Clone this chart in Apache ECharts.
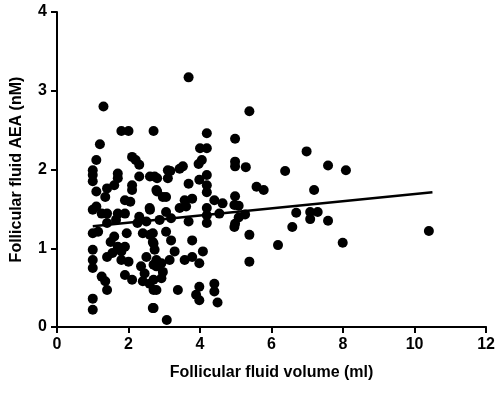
<!DOCTYPE html>
<html><head><meta charset="utf-8">
<script src="https://cdn.jsdelivr.net/npm/echarts@6/dist/echarts.min.js"></script>
<style>html,body{margin:0;padding:0;background:#fff}#c{width:498px;height:400px}</style>
</head><body><div id="c"></div>
<script>
const volume = [5.38,4.98,4.98,4.98,5.28,6.98,6.38,7.58,8.08,5.58,5.78,7.19,4.98,5.08,5.26,5.08,4.98,5.38,6.18,6.58,6.69,7.08,7.08,7.29,7.58,7.99,5.38,10.4,
1.3,1.8,2.0,2.7,1.2,1.1,2.1,2.2,2.3,1.0,1.0,1.0,1.7,1.7,1.6,2.3,2.6,2.8,2.1,2.1,1.4,1.1,1.35,2.8,1.9,2.05,1.0,1.1,1.25,1.4,1.7,1.9,2.3,2.6,1.4,1.65,2.25,2.5,1.0,1.15,1.6,1.95,2.4,2.6,1.5,1.7,1.9,1.8,2.7,1.0,1.0,1.0,1.4,1.55,1.8,2.5,2.7,2.0,2.35,2.45,1.9,2.1,1.25,1.35,2.4,2.7,1.4,2.7,1.0,1.0,2.7,
3.68,4.19,4.0,4.19,4.05,3.96,3.52,3.43,3.1,3.17,2.73,3.1,4.19,3.98,4.19,3.68,2.78,2.96,3.05,4.19,3.78,3.57,4.4,4.63,4.96,2.59,3.05,3.43,3.61,4.19,4.19,4.54,2.87,3.19,3.68,4.19,4.96,2.68,3.05,3.19,3.78,2.68,2.73,3.29,4.08,2.78,2.92,3.15,3.57,3.78,3.98,2.78,2.96,2.92,2.59,2.78,3.38,3.98,4.4,4.4,3.89,3.98,4.49,2.68,3.07];
const aea = [2.74,2.39,2.10,2.04,2.03,2.23,1.98,2.05,1.99,1.78,1.74,1.74,1.66,1.54,1.43,1.39,1.31,1.17,1.04,1.27,1.45,1.46,1.37,1.46,1.35,1.07,0.83,1.22,
2.80,2.49,2.49,2.49,2.32,2.12,2.16,2.12,2.06,1.99,1.93,1.85,1.95,1.89,1.80,1.91,1.91,1.89,1.80,1.74,1.76,1.72,1.65,1.72,1.61,1.59,1.49,1.53,1.44,1.44,1.44,1.44,1.40,1.49,1.32,1.36,1.32,1.34,1.19,1.21,1.15,1.19,1.19,1.17,1.08,1.02,1.02,0.96,1.06,0.98,0.85,0.75,0.89,0.94,0.85,0.89,0.79,0.83,0.77,0.68,0.66,0.60,0.64,0.58,0.58,0.60,0.47,0.47,0.36,0.22,0.24,
3.17,2.46,2.27,2.27,2.12,2.07,2.04,2.01,1.99,1.98,1.91,1.89,1.93,1.87,1.80,1.82,1.74,1.65,1.65,1.71,1.63,1.61,1.61,1.57,1.55,1.51,1.46,1.51,1.53,1.51,1.42,1.44,1.36,1.38,1.34,1.32,1.27,1.19,1.21,1.10,1.10,1.08,0.98,0.96,0.96,0.85,0.81,0.85,0.85,0.89,0.81,0.77,0.70,0.62,0.55,0.47,0.47,0.51,0.55,0.45,0.41,0.34,0.31,0.24,0.09];
const fitX = [1, 10.5];
const fitY = [1.28, 1.71];
const xTicks = [0,2,4,6,8,10,12];
const yTicks = [0,1,2,3,4];
const font = 'Liberation Sans, Arial, sans-serif';
const chart = echarts.init(document.getElementById('c'));
chart.setOption({
  animation:false,
  grid:{left:57,right:10,top:12,bottom:73},
  xAxis:{type:'value',min:xTicks[0],max:xTicks[xTicks.length-1],interval:2,
    name:'Follicular fluid volume (ml)',nameLocation:'middle',nameGap:38,
    nameTextStyle:{fontFamily:font,fontWeight:'bold',fontSize:16,color:'#000'},
    axisLine:{lineStyle:{color:'#000',width:2}},axisTick:{length:6,lineStyle:{color:'#000',width:2}},
    axisLabel:{fontFamily:font,fontWeight:'bold',fontSize:16,color:'#000',margin:10},splitLine:{show:false}},
  yAxis:{type:'value',min:yTicks[0],max:yTicks[yTicks.length-1],interval:1,
    name:'Follicular fluid AEA (nM)',nameLocation:'middle',nameGap:32,
    nameTextStyle:{fontFamily:font,fontWeight:'bold',fontSize:16,color:'#000'},
    axisLine:{show:true,lineStyle:{color:'#000',width:2}},axisTick:{show:true,length:6,lineStyle:{color:'#000',width:2}},
    axisLabel:{fontFamily:font,fontWeight:'bold',fontSize:16,color:'#000',margin:10},splitLine:{show:false}},
  series:[
    {type:'scatter',symbolSize:10,itemStyle:{color:'#000',opacity:1},
     data:volume.map((v,i)=>[v,aea[i]])},
    {type:'line',symbol:'none',lineStyle:{color:'#000',width:2.5},
     data:fitX.map((v,i)=>[v,fitY[i]])}
  ]
});
</script></body></html>
